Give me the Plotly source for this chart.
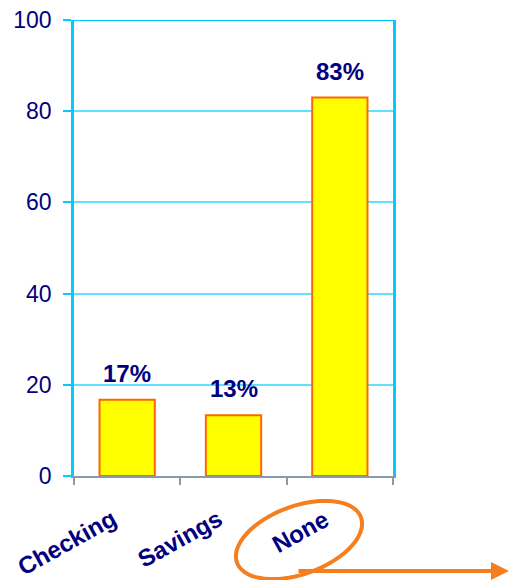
import numpy as np
import plotly.graph_objects as go

categories = ["Checking", "Savings", "None"]
values = [16.7, 13.3, 83.0]
value_labels = ["17%", "13%", "83%"]
y_ticks = [0, 20, 40, 60, 80, 100]

NAVY = "#000080"
CYAN = "#00CCFF"
GRID = "#5FE0FF"
ORANGE = "#F57F1E"
FONT = "Liberation Sans, Arial, sans-serif"

W, H = 512, 580
L, R, T, B = 74, 119, 20, 104
PW, PH = W - L - R, H - T - B

def px2paper(x, y):
    return (x - L) / PW, (H - B - y) / PH

fig = go.Figure()
fig.add_trace(go.Bar(
    x=categories, y=values,
    marker=dict(color="#FFFF00", line=dict(color="#FF6600", width=2)),
    width=0.52,
    hoverinfo="skip",
))

for c, v, t in zip(categories, values, value_labels):
    fig.add_annotation(x=c, y=v, text="<b>%s</b>" % t, showarrow=False,
                       yanchor="bottom", yshift=11,
                       font=dict(family=FONT, size=24, color=NAVY))

# category labels (rotated)
for c in categories:
    fig.add_annotation(x=c, y=0, yref="y", text="<b>%s</b>" % c, showarrow=False,
                       xanchor="right", yanchor="top", textangle=-29,
                       xshift=-4, yshift=-26,
                       font=dict(family=FONT, size=24, color=NAVY))

# ellipse around "None"
cx, cy, a, b, th = 299, 540, 66, 34, np.deg2rad(20)
tt = np.linspace(0, 2 * np.pi, 73)
ex = cx + a * np.cos(tt) * np.cos(th) + b * np.sin(tt) * np.sin(th)
ey = cy - a * np.cos(tt) * np.sin(th) + b * np.sin(tt) * np.cos(th)
pts = [px2paper(x, y) for x, y in zip(ex, ey)]
path = "M " + " L ".join("%.4f,%.4f" % p for p in pts) + " Z"
fig.add_shape(type="path", path=path, xref="paper", yref="paper",
              line=dict(color=ORANGE, width=4))

# arrow
tx, ty = px2paper(509, 571)
fig.add_annotation(x=tx, y=ty, ax=-(509 - 297), ay=0, xref="paper", yref="paper",
                   axref="pixel", ayref="pixel", text="", showarrow=True,
                   arrowhead=2, arrowsize=0.9, arrowwidth=4, arrowcolor=ORANGE)

# top line at 100
fig.add_shape(type="line", xref="paper", yref="y", x0=-8 / PW, x1=1, y0=100, y1=100,
              line=dict(color=CYAN, width=2))

fig.update_layout(
    width=W, height=H,
    margin=dict(l=L, r=R, t=T, b=B, autoexpand=False),
    paper_bgcolor="white", plot_bgcolor="white",
    showlegend=False,
    font=dict(family=FONT, color=NAVY),
    xaxis=dict(
        range=[-0.5, len(categories) - 0.5], autorange=False,
        tickson="boundaries", ticks="outside", ticklen=7,
        tickcolor="#8A9AA8", tickwidth=1.5,
        showline=True, linecolor="#8A9AA8", linewidth=2,
        showgrid=False, showticklabels=False, automargin=False,
    ),
    yaxis=dict(
        range=[0, 100], autorange=False, tickvals=y_ticks, ticks="outside", ticklen=8,
        tickcolor=CYAN, tickwidth=1.5,
        showline=True, linecolor=CYAN, linewidth=2.5, mirror=True,
        showgrid=True, gridcolor=GRID, gridwidth=1.5,
        zeroline=False, automargin=False,
        tickfont=dict(family=FONT, size=23, color=NAVY),
        ticklabelstandoff=7,
    ),
)

fig.write_html("out.html")
